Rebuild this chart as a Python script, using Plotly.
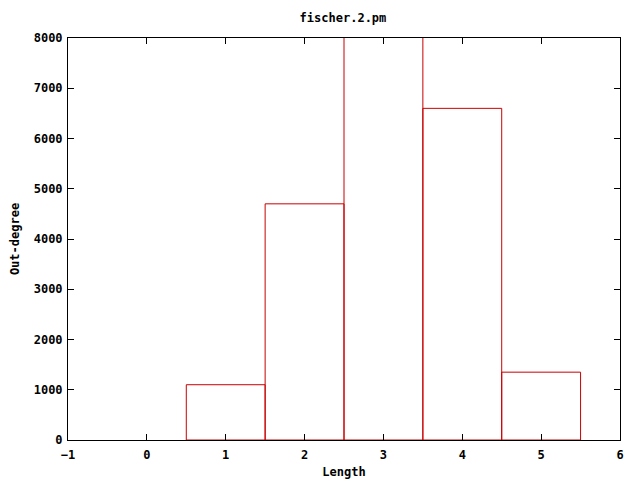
import plotly.graph_objects as go

lengths = [1, 2, 3, 4, 5]
out_degree = [1100, 4700, 9000, 6600, 1350]
x_ticks = [-1, 0, 1, 2, 3, 4, 5, 6]
y_ticks = [0, 1000, 2000, 3000, 4000, 5000, 6000, 7000, 8000]

font = dict(family="DejaVu Sans Mono", size=12, color="black", weight="bold")

fig = go.Figure()
fig.add_trace(go.Bar(
    x=lengths, y=out_degree, width=1,
    marker=dict(color="rgba(0,0,0,0)", line=dict(color="#c80000", width=1)),
))
fig.update_layout(
    width=640, height=480,
    margin=dict(l=60, r=28, t=30, b=48, autoexpand=False),
    paper_bgcolor="white", plot_bgcolor="white",
    showlegend=False,
    font=font,
    title=dict(text="fischer.2.pm", x=0.5234, xanchor="center", y=0.979, yanchor="middle", font=font),
    xaxis=dict(range=[-1, 6], tickvals=x_ticks, ticks="inside", ticklen=6, tickcolor="black",
               showline=True, linecolor="black", linewidth=1, mirror="ticks", showgrid=False,
               zeroline=False, automargin=False, ticklabelstandoff=4,
               title=dict(text="Length", font=font, standoff=6)),
    yaxis=dict(range=[0, 8000], tickvals=y_ticks, ticks="inside", ticklen=6, tickcolor="black",
               showline=True, linecolor="black", linewidth=1, mirror="ticks", showgrid=False,
               zeroline=False, automargin=False, ticklabelstandoff=2,
               title=dict(text="Out-degree", font=font, standoff=13)),
)
fig.write_html("out.html")
